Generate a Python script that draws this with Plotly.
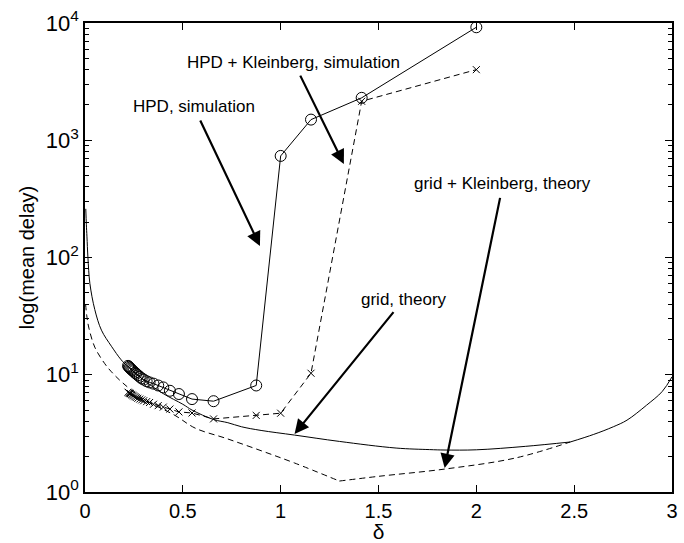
import plotly.graph_objects as go

# HPD, simulation (circles, solid)
hpd_x = [0.22, 0.224, 0.228, 0.232, 0.237, 0.242, 0.248, 0.255, 0.262, 0.27, 0.28, 0.29, 0.30, 0.315,
         0.33, 0.35, 0.374, 0.40, 0.434, 0.48, 0.547, 0.657, 0.875, 1.0, 1.155, 1.414, 2.0]
hpd_y = [11.9, 11.7, 11.5, 11.3, 11.1, 10.9, 10.7, 10.4, 10.2, 9.9, 9.6, 9.3, 9.1, 8.8,
         8.6, 8.4, 8.1, 7.8, 7.3, 6.85, 6.2, 5.95, 8.1, 735, 1500, 2300, 9200]

# HPD + Kleinberg, simulation (x markers, dashed)
hk_x = hpd_x
hk_y = [7.1, 7.0, 6.95, 6.9, 6.8, 6.7, 6.6, 6.5, 6.4, 6.3, 6.2, 6.1, 6.0, 5.9,
        5.8, 5.6, 5.45, 5.3, 5.1, 4.82, 4.72, 4.2, 4.5, 4.7, 10.3, 2150, 4000]

# grid, theory (solid) – two branches meeting at a kink near 2.48
gt_left_x = [0.004, 0.007, 0.01, 0.015, 0.025, 0.05, 0.084, 0.135, 0.185, 0.22, 0.3, 0.4, 0.5,
             0.547, 0.657, 0.73, 0.8, 0.9, 1.07, 1.3, 1.59, 1.76, 1.84, 2.0, 2.25, 2.48]
gt_left_y = [260, 190, 150, 100, 60, 36, 24, 17.5, 13.4, 11.7, 9.0, 6.9, 5.6,
             5.0, 4.15, 3.9, 3.6, 3.35, 3.06, 2.7, 2.37, 2.3, 2.28, 2.29, 2.45, 2.67]
gt_right_x = [2.48, 2.6, 2.7, 2.77, 2.87, 2.95, 3.0]
gt_right_y = [2.67, 3.1, 3.6, 4.1, 5.5, 7.2, 9.6]

# grid + Kleinberg, theory (dashed) – two branches meeting at a kink near 1.3
gk_left_x = [0.003, 0.01, 0.02, 0.05, 0.1, 0.135, 0.19, 0.3, 0.46, 0.564, 0.72, 0.9, 1.07, 1.3]
gk_left_y = [40, 31, 25, 17.2, 12.5, 10.6, 8.6, 6.2, 4.5, 3.5, 2.87, 2.25, 1.77, 1.24]
gk_right_x = [1.3, 1.5, 1.84, 2.2, 2.48]
gk_right_y = [1.24, 1.36, 1.57, 1.95, 2.67]

x_ticks = [0, 0.5, 1, 1.5, 2, 2.5, 3]
x_ticktext = ["0", "0.5", "1", "1.5", "2", "2.5", "3"]
y_ticks = [1, 10, 100, 1000, 10000]
y_ticktext = ["10<sup>0</sup>", "10<sup>1</sup>", "10<sup>2</sup>", "10<sup>3</sup>", "10<sup>4</sup>"]

# annotations: (text, text_x, text_logy, tip_x, tip_logy)
notes = [
    ("HPD + Kleinberg, simulation", 1.066, 3.667, 1.323, 2.797),
    ("HPD, simulation", 0.556, 3.284, 0.894, 2.098),
    ("grid + Kleinberg, theory", 2.136, 2.627, 1.838, 0.205),
    ("grid, theory", 1.631, 1.646, 1.071, 0.495),
]

FONT = "Liberation Sans, Arial, Helvetica, sans-serif"

fig = go.Figure()
solid = dict(color="black", width=1)
dashed = dict(color="black", width=1, dash="6px,4px")
for xs, ys, ln in [(gt_left_x, gt_left_y, solid), (gt_right_x, gt_right_y, solid),
                   (gk_left_x, gk_left_y, dashed), (gk_right_x, gk_right_y, dashed)]:
    fig.add_trace(go.Scatter(x=xs, y=ys, mode="lines", line=ln, line_shape="spline",
                             showlegend=False, hoverinfo="skip"))
fig.add_trace(go.Scatter(x=hk_x, y=hk_y, mode="lines+markers", line=dashed,
                         marker=dict(symbol="x-thin-open", size=7,
                                     line=dict(color="black", width=1)),
                         showlegend=False))
fig.add_trace(go.Scatter(x=hpd_x, y=hpd_y, mode="lines+markers", line=solid,
                         marker=dict(symbol="circle-open", size=11, color="black",
                                     line=dict(color="black", width=1)),
                         showlegend=False))

anns = []
for text, tx, ty, hx, hy in notes:
    anns.append(dict(x=hx, y=hy, xref="x", yref="y", ax=tx, ay=ty, axref="x", ayref="y",
                     text=text, showarrow=True, arrowhead=2, arrowsize=1.3, arrowwidth=2.2,
                     arrowcolor="black", standoff=0, startstandoff=4, borderpad=0,
                     font=dict(family=FONT, size=17, color="black")))

minor_y = [m * 10 ** e for e in range(0, 4) for m in range(2, 10)]

fig.update_layout(
    width=684, height=543,
    margin=dict(l=85, r=6, t=23, b=51),
    paper_bgcolor="white", plot_bgcolor="white",
    font=dict(family=FONT, color="black"),
    annotations=anns,
    xaxis=dict(range=[0, 3], tickvals=x_ticks, ticktext=x_ticktext,
               ticks="inside", ticklen=7, tickwidth=1, tickcolor="black",
               showline=True, linecolor="black", linewidth=1.5, mirror="allticks",
               showgrid=False, zeroline=False,
               tickfont=dict(family=FONT, size=20, color="black"),
               title=dict(text="δ", font=dict(family=FONT, size=21, color="black"), standoff=0)),
    yaxis=dict(type="log", range=[0, 4], tickvals=y_ticks, ticktext=y_ticktext,
               ticks="inside", ticklen=7, tickwidth=1, tickcolor="black",
               showline=True, linecolor="black", linewidth=1.5, mirror="allticks",
               showgrid=False, zeroline=False,
               minor=dict(tickvals=minor_y, ticks="inside", ticklen=4, tickwidth=1,
                          tickcolor="black", showgrid=False),
               tickfont=dict(family=FONT, size=22, color="black"),
               title=dict(text="log(mean delay)", font=dict(family=FONT, size=20, color="black"),
                          standoff=6)),
)

fig.write_html("out.html")
